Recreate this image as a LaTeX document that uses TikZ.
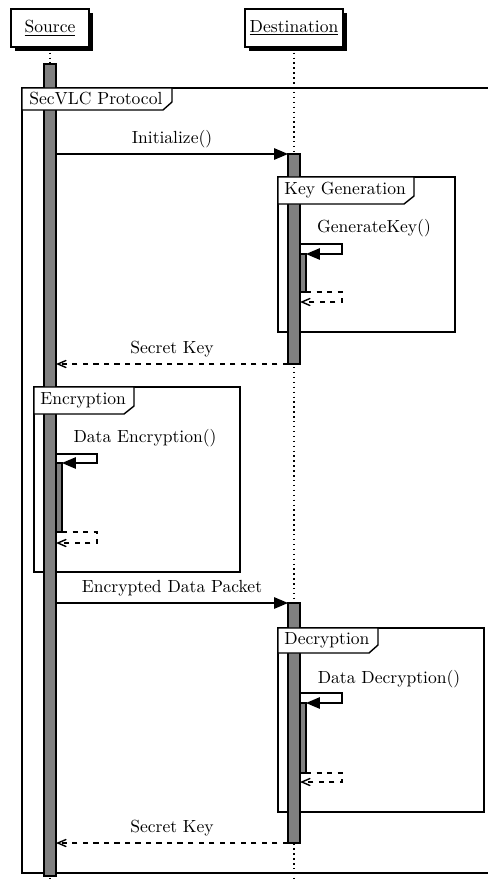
\documentclass[tikz,border=0pt]{standalone}
\usetikzlibrary{arrows,positioning,shadows}
\tikzset{
    %Define standard arrow tip
    >=angle 45,
    %Define style for participant boxes
    actor/.style={
           rectangle,
           draw=black, thick,
           fill=white,
           minimum width=44.5pt,
           minimum height=21.7pt,
           inner xsep=2.7pt,
           text centered,
           drop shadow={shadow xshift=2.3pt,shadow yshift=-2.3pt,fill=black,opacity=1},
           },
    lifeline/.style={dotted, thick},
    actbar/.style={draw=black, thick, fill=black!50},
    % Define style for frames and their tabs
    frame/.style={draw=black, thick},
    tabbox/.style={draw=black, thick, fill=white},
    tabtext/.style={anchor=west, inner sep=0pt},
    % Define arrow styles
    call/.style={-triangle 45, thick},
    reply/.style={->, thick, dashed},
    msg/.style={above},
}
\begin{document}
\begin{tikzpicture}[x=0.57pt,y=-0.57pt]
\useasboundingbox (0,0) rectangle (488,881);
\clip (0,0) rectangle (488,881);
% participants
\node[actor](src) at (50,28){\underline{Source}};
\node[actor](dst) at (294,28){\underline{Destination}};
\coordinate (src end) at (50,881);
\coordinate (dst end) at (294,881);
\draw[lifeline] (src) -- (src end);
\draw[lifeline] (dst) -- (dst end);
% frames
\draw[frame] (22,88) rectangle (520,873);
\draw[frame] (278,177) rectangle (455,332);
\draw[frame] (34,387) rectangle (240,572);
\draw[frame] (278,628) rectangle (484,812);
% activation bars
\draw[actbar] (44,64) rectangle (56,876);
\draw[actbar] (288,154) rectangle (300,364);
\draw[actbar] (300,254) rectangle (306,292);
\draw[actbar] (56,463) rectangle (62,532);
\draw[actbar] (288,603) rectangle (300,843);
\draw[actbar] (300,703) rectangle (306,773);
% tabs
\draw[tabbox] (22,88) -- (172,88) -- (172,102) -- (163,110) -- (22,110) -- cycle;
\node[tabtext](proto) at (29,99){SecVLC Protocol};
\draw[tabbox] (278,177) -- (414,177) -- (414,196) -- (404,204) -- (278,204) -- cycle;
\node[tabtext](keygen) at (284,190){Key Generation};
\draw[tabbox] (34,387) -- (134,387) -- (134,406) -- (124,414) -- (34,414) -- cycle;
\node[tabtext](enc) at (40,400){Encryption};
\draw[tabbox] (278,628) -- (378,628) -- (378,645) -- (369,653) -- (278,653) -- cycle;
\node[tabtext](dec) at (284,640){Decryption};
% messages
\coordinate (init s) at (56,154);
\coordinate (init d) at (288,154);
\draw[call] (init s) -- node[msg](init lbl){Initialize()} (init d);
\coordinate (gk s) at (300,244);
\coordinate (gk d) at (306,254);
\coordinate (gk r) at (306,292);
\coordinate (gk e) at (300,302);
\node(gk lbl) at (374,228){GenerateKey()};
\draw[call] (gk s) -- ++(42,0) |- (gk d);
\draw[reply] (gk r) -- ++(36,0) |- (gk e);
\coordinate (sk1 d) at (288,364);
\coordinate (sk1 s) at (56,364);
\draw[reply] (sk1 d) -- node[msg](sk1 lbl){Secret Key} (sk1 s);
\coordinate (de s) at (56,454);
\coordinate (de d) at (62,463);
\coordinate (de r) at (62,532);
\coordinate (de e) at (56,543);
\node(de lbl) at (145,438){Data Encryption()};
\draw[call] (de s) -- ++(41,0) |- (de d);
\draw[reply] (de r) -- ++(35,0) |- (de e);
\coordinate (pkt s) at (56,603);
\coordinate (pkt d) at (288,603);
\draw[call] (pkt s) -- node[msg](pkt lbl){Encrypted Data Packet} (pkt d);
\coordinate (dd s) at (300,693);
\coordinate (dd d) at (306,703);
\coordinate (dd r) at (306,773);
\coordinate (dd e) at (300,782);
\node(dd lbl) at (389,679){Data Decryption()};
\draw[call] (dd s) -- ++(42,0) |- (dd d);
\draw[reply] (dd r) -- ++(36,0) |- (dd e);
\coordinate (sk2 d) at (288,843);
\coordinate (sk2 s) at (56,843);
\draw[reply] (sk2 d) -- node[msg](sk2 lbl){Secret Key} (sk2 s);
\end{tikzpicture}
\end{document}
